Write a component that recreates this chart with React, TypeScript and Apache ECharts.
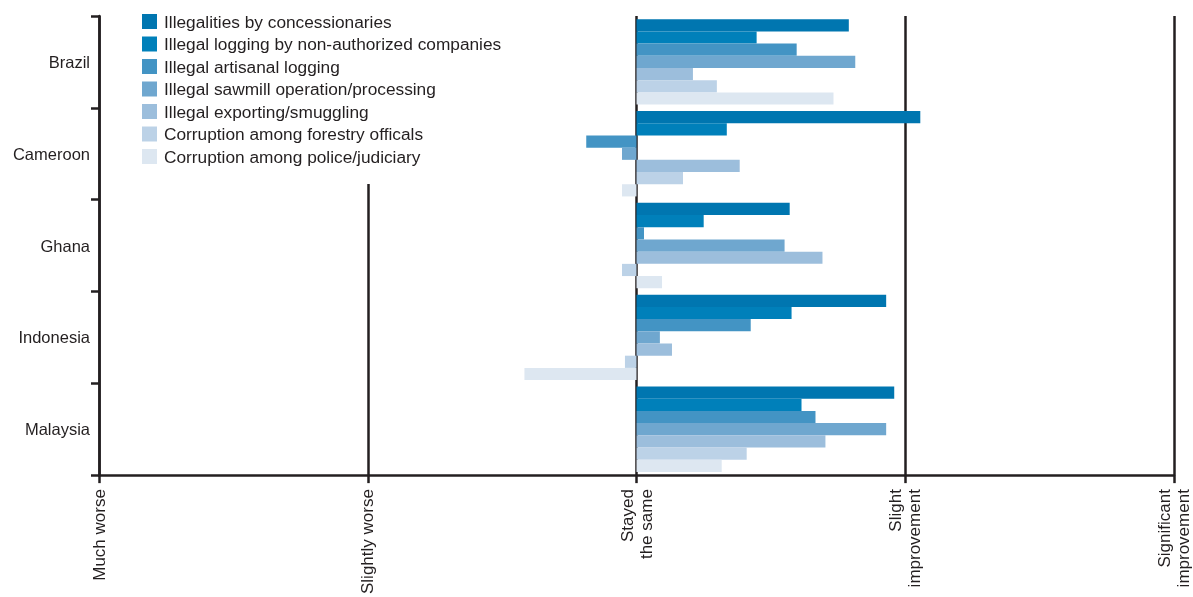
import React, { useEffect, useRef } from "react";
import * as echarts from "echarts";

const countries = ["Brazil", "Cameroon", "Ghana", "Indonesia", "Malaysia"];
const seriesNames = [
  "Illegalities by concessionaries",
  "Illegal logging by non-authorized companies",
  "Illegal artisanal logging",
  "Illegal sawmill operation/processing",
  "Illegal exporting/smuggling",
  "Corruption among forestry officals",
  "Corruption among police/judiciary",
];
const colors = ["#0076B0", "#0080BA", "#4394C4", "#6FA7CF", "#9CBEDC", "#BCD2E7", "#DDE7F1"];
const concessionaries = [0.79, 1.056, 0.57, 0.929, 0.959];
const nonAuthorized = [0.447, 0.336, 0.25, 0.577, 0.614];
const artisanal = [0.596, -0.187, 0.028, 0.425, 0.666];
const sawmill = [0.814, -0.054, 0.551, 0.087, 0.929];
const exporting = [0.21, 0.384, 0.692, 0.132, 0.703];
const forestryOfficials = [0.299, 0.173, -0.054, -0.043, 0.41];
const policeJudiciary = [0.733, -0.054, 0.095, -0.417, 0.317];
const seriesValues = [concessionaries, nonAuthorized, artisanal, sawmill, exporting, forestryOfficials, policeJudiciary];
const tickLabels: Record<string, string> = {
  "-2": "Much worse",
  "-1": "Slightly worse",
  "0": "Stayed\nthe same",
  "1": "Slight\nimprovement",
  "2": "Significant\nimprovement",
};

const FONT = "'Liberation Sans', Arial, sans-serif";
const INK = "#231f20";

export default function App() {
  const ref = useRef<HTMLDivElement>(null);
  useEffect(() => {
    if (!ref.current) return;
    const chart = echarts.init(ref.current, null, { renderer: "svg" });
    chart.setOption({
      animation: false,
      textStyle: { fontFamily: FONT },
      legend: {
        orient: "vertical",
        left: 140,
        top: 11,
        padding: [2, 10, 19, 2],
        backgroundColor: "#ffffff",
        itemWidth: 15,
        itemHeight: 15,
        itemGap: 5.5,
        icon: "rect",
        z: 10,
        textStyle: { fontSize: 17.3, color: INK, fontFamily: FONT, padding: [0, 0, 0, 2] },
        data: seriesNames,
      },
      grid: { left: 99, right: 16, top: 16, bottom: 119, containLabel: false },
      xAxis: {
        type: "value",
        min: -2,
        max: 2,
        interval: 1,
        axisLine: { show: true, onZero: false, lineStyle: { color: INK, width: 2.5 } },
        axisTick: { show: true, length: 8, lineStyle: { color: INK, width: 2.5 } },
        splitLine: { show: true, lineStyle: { color: INK, width: 2.5 } },
        axisLabel: {
          rotate: 90,
          margin: 14,
          fontSize: 17,
          color: INK,
          fontFamily: FONT,
          lineHeight: 19,
          formatter: (v: number) => tickLabels[String(v)] ?? "",
        },
      },
      yAxis: {
        type: "category",
        inverse: true,
        data: countries,
        axisLine: { show: true, onZero: false, lineStyle: { color: INK, width: 2.5 } },
        axisTick: { show: true, length: 8, lineStyle: { color: INK, width: 2.5 } },
        axisLabel: { fontSize: 16.5, color: INK, margin: 9, fontFamily: FONT },
      },
      series: seriesNames.map((name, i) => ({
        name,
        type: "bar",
        data: seriesValues[i],
        barGap: "0%",
        barCategoryGap: "7%",
        itemStyle: { color: colors[i] },
        z: 3,
      })),
    });
    return () => chart.dispose();
  }, []);
  return <div ref={ref} style={{ position: "fixed", left: 0, top: 0, width: 1193, height: 597 }} />;
}
